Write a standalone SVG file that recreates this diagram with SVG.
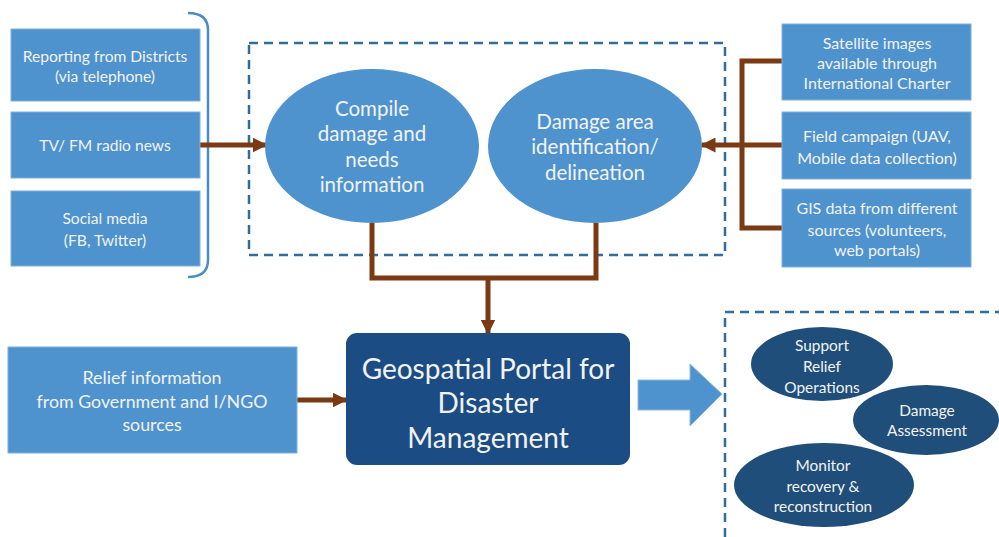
<svg xmlns="http://www.w3.org/2000/svg" width="999" height="537" viewBox="0 0 999 537">
<style>
.box{fill:#4E93CE;stroke:#7FB0DA;stroke-width:1}
.ell{fill:#4E93CE}
.dark{fill:#1B4C84}
.del{fill:#1F4E7A}
.t{font-family:Lato,"Open Sans",sans-serif;fill:#F2F2F2;text-anchor:middle;dominant-baseline:central}
.s14{font-size:15.6px}
.sr{font-size:16px}
.s16{font-size:17.8px}
.s19{font-size:20.5px}
.s15{font-size:15.4px}
.s26{font-size:28px}
.dash{fill:none;stroke:#2F6E9C;stroke-width:2.5;stroke-dasharray:9,6}
.con{fill:none;stroke:#7B3A14;stroke-width:5}
</style>
<defs>
<marker id="ah" viewBox="0 0 10 10" refX="9" refY="5" markerWidth="3" markerHeight="3" orient="auto" markerUnits="strokeWidth">
<path d="M0,0 L10,5 L0,10 z" fill="#7B3A14"/>
</marker>
</defs>
<rect width="999" height="537" fill="#FFFFFF"/>

<rect class="dash" x="249" y="43" width="476" height="212"/>
<path class="dash" d="M725,537 L725,312 L1005,312"/>

<g id="connectors">
<path d="M188,13 Q208,13 208,30 L208,260 Q208,277 188,277" fill="none" stroke="#4A8CC4" stroke-width="2.5"/>
<line class="con" x1="200" y1="145" x2="266" y2="145" marker-end="url(#ah)"/>
<path class="con" d="M782,61 L742,61 L742,228 L782,228"/>
<line class="con" x1="742" y1="145" x2="782" y2="145"/>
<line class="con" x1="742" y1="145" x2="702" y2="145" marker-end="url(#ah)"/>
<path class="con" d="M372,223 L372,278 L596,278 L596,223"/>
<line class="con" x1="488" y1="278" x2="488" y2="333" marker-end="url(#ah)"/>
<line class="con" x1="297" y1="400" x2="346" y2="400" marker-end="url(#ah)"/>
<path d="M638,380 L690,380 L690,364 L722,394 L690,426 L690,410 L638,410 z" fill="#4E93CE" stroke="#8ABAE0" stroke-width="1"/>
</g>

<g id="reporting">
<rect class="box" x="11" y="29" width="189" height="72"/>
<text class="t s14" x="105" y="56">Reporting from Districts</text>
<text class="t s14" x="105" y="76">(via telephone)</text>
</g>
<g id="tvfm">
<rect class="box" x="11" y="112" width="189" height="66"/>
<text class="t s14" x="105" y="145">TV/ FM radio news</text>
</g>
<g id="social">
<rect class="box" x="11" y="191" width="189" height="75"/>
<text class="t s14" x="105" y="218">Social media</text>
<text class="t s14" x="105" y="240">(FB, Twitter)</text>
</g>

<g id="compile">
<ellipse class="ell" cx="372" cy="146" rx="107" ry="77"/>
<text class="t s19" x="372" y="108">Compile</text>
<text class="t s19" x="372" y="133">damage and</text>
<text class="t s19" x="372" y="159">needs</text>
<text class="t s19" x="372" y="184">information</text>
</g>
<g id="damagearea">
<ellipse class="ell" cx="595" cy="146" rx="107" ry="77"/>
<text class="t s19" x="595" y="121">Damage area</text>
<text class="t s19" x="595" y="146">identification/</text>
<text class="t s19" x="595" y="172">delineation</text>
</g>

<g id="satellite">
<rect class="box" x="782" y="24" width="189" height="76"/>
<text class="t sr" x="877" y="42">Satellite images</text>
<text class="t sr" x="877" y="62">available through</text>
<text class="t sr" x="877" y="82">International Charter</text>
</g>
<g id="field">
<rect class="box" x="782" y="112" width="189" height="67"/>
<text class="t sr" x="877" y="135">Field campaign (UAV,</text>
<text class="t sr" x="877" y="157">Mobile data collection)</text>
</g>
<g id="gis">
<rect class="box" x="782" y="189" width="189" height="78"/>
<text class="t sr" x="877" y="207">GIS data from different</text>
<text class="t sr" x="877" y="229">sources (volunteers,</text>
<text class="t sr" x="877" y="249">web portals)</text>
</g>

<g id="relief">
<rect class="box" x="8" y="347" width="289" height="106"/>
<text class="t s16" x="152" y="377">Relief information</text>
<text class="t s16" x="152" y="401">from Government and I/NGO</text>
<text class="t s16" x="152" y="424">sources</text>
</g>

<g id="portal">
<rect class="dark" x="346" y="333" width="284" height="132" rx="11"/>
<text class="t s26" x="488" y="368">Geospatial Portal for</text>
<text class="t s26" x="488" y="402">Disaster</text>
<text class="t s26" x="488" y="437">Management</text>
</g>

<g id="support">
<ellipse class="del" cx="822" cy="364" rx="71" ry="37"/>
<text class="t s15" x="822" y="345">Support</text>
<text class="t s15" x="822" y="366">Relief</text>
<text class="t s15" x="822" y="387">Operations</text>
</g>
<g id="assessment">
<ellipse class="del" cx="926" cy="420" rx="73" ry="35"/>
<text class="t s15" x="927" y="410">Damage</text>
<text class="t s15" x="927" y="430">Assessment</text>
</g>
<g id="monitor">
<ellipse class="del" cx="824" cy="485" rx="90" ry="42"/>
<text class="t s15" x="823" y="465">Monitor</text>
<text class="t s15" x="823" y="486">recovery &amp;</text>
<text class="t s15" x="823" y="506">reconstruction</text>
</g>
</svg>
